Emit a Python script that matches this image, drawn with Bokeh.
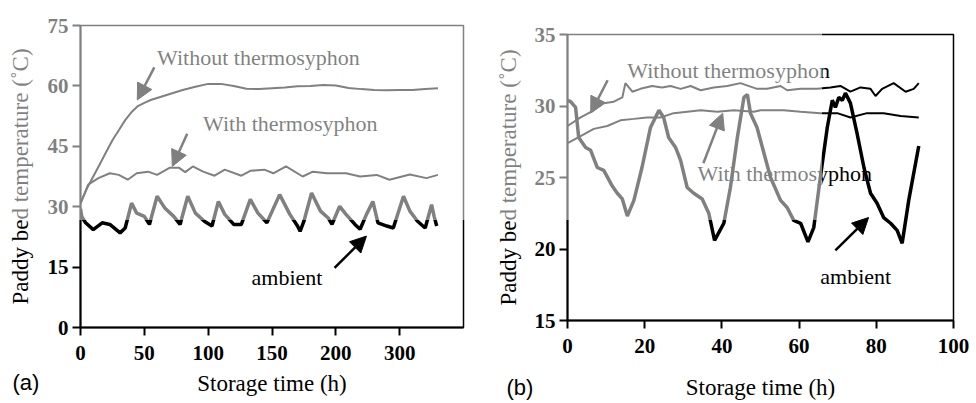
from bokeh.plotting import figure
from bokeh.layouts import row, column
from bokeh.models import Label, Arrow, NormalHead, FixedTicker, InlineStyleSheet
from bokeh.embed import file_html
from bokeh.resources import INLINE

# ---------------- data: panel (a) ----------------
a_time_without = [0, 5, 10, 15, 20, 25, 30, 35, 40, 45, 50, 55, 60, 70, 80, 90, 100, 110, 120,
                  130, 140, 150, 160, 170, 180, 190, 200, 210, 220, 230, 240, 250, 260, 270, 280]
a_without = [30.8, 34.5, 37.5, 40.5, 43.5, 46.5, 49.0, 51.5, 53.5, 55.0, 55.8, 56.5, 57.0, 58.0, 59.0,
             59.8, 60.5, 60.5, 60.0, 59.3, 59.2, 59.4, 59.6, 59.9, 60.0, 60.2, 60.1, 59.5, 59.2, 59.0,
             58.9, 59.0, 59.0, 59.2, 59.4]

a_time_with = [0, 6, 14, 23, 30, 37, 44, 53, 60, 70, 77, 82, 88, 96, 105, 113, 126, 133, 144, 151,
               161, 174, 182, 193, 208, 219, 232, 242, 258, 271, 280]
a_with = [30.8, 35.5, 37.1, 38.3, 37.9, 36.7, 38.3, 38.7, 37.9, 39.7, 39.7, 38.6, 40.0, 38.7, 37.7,
          39.2, 37.7, 38.9, 39.2, 38.3, 40.0, 37.5, 38.7, 38.3, 38.3, 37.5, 37.9, 36.7, 38.0, 37.1, 37.9]

a_time_amb = [0, 1, 4, 10, 17, 23, 31, 35, 40, 44, 50, 54, 60, 66, 73, 78, 84, 90, 97, 103,
              108, 113, 120, 126, 133, 139, 146, 156, 164, 170, 172, 175, 181, 188, 194, 197, 203, 208, 215, 219,
              224, 229, 233, 240, 245, 253, 258, 264, 270, 275, 277, 279]
a_amb = [29.5, 27.5, 26.0, 24.3, 26.0, 25.6, 23.5, 24.7, 30.9, 28.4, 27.6, 25.6, 32.6, 29.7, 27.6,
         25.6, 32.6, 28.4, 26.4, 25.2, 31.3, 28.1, 25.6, 25.6, 31.8, 28.4, 26.0, 33.0, 28.1, 25.2,
         23.9, 26.4, 33.4, 28.9, 27.2, 25.6, 30.1, 28.1, 25.6, 24.4, 28.1, 31.3, 26.0, 25.2, 24.7,
         32.6, 28.9, 26.4, 24.7, 30.5, 27.6, 25.2]

a_xticks = [0, 50, 100, 150, 200, 250]
a_xtick_labels = ["0", "50", "100", "150", "200", "300"]
a_yticks = [0, 15, 30, 45, 60, 75]

# ---------------- data: panel (b) ----------------
b_time_without = [0, 3.4, 6.8, 9.4, 12, 14.2, 15, 16.8, 18.9, 21.9, 24.5, 26.7, 29.3, 31.9, 34.5,
                  37.9, 41.4, 44.8, 49.1, 51.7, 55.2, 56.9, 60.4, 64.7, 68.1, 70.7, 73.3, 75.9, 78.5,
                  79.8, 81.5, 84.5, 87.6, 89.7, 91]
b_without = [28.6, 29.2, 29.7, 30.2, 30.3, 30.6, 31.6, 31.0, 31.2, 31.4, 31.3, 31.4, 31.2, 31.4, 31.1,
             31.3, 31.4, 31.6, 31.2, 31.2, 31.4, 31.1, 31.2, 31.2, 31.3, 31.4, 31.0, 31.3, 31.2, 30.7,
             31.2, 31.6, 31.0, 31.2, 31.6]

b_time_with = [0, 3.4, 6.8, 10.3, 13.7, 17.2, 20.6, 24.1, 27.5, 31, 34.5, 38.8, 43.1, 48.3, 50, 56,
               60.4, 65.5, 69.9, 73.3, 77.6, 81.9, 86.3, 91]
b_with = [27.4, 27.9, 28.4, 28.6, 29.0, 29.1, 29.2, 29.2, 29.5, 29.6, 29.7, 29.6, 29.7, 29.6, 29.7,
          29.7, 29.6, 29.5, 29.5, 29.2, 29.5, 29.5, 29.3, 29.2]

b_time_amb = [0, 0.8, 2.1, 2.9, 4.7, 6, 7.7, 9.4, 11.6, 12.9, 14.2, 15.5, 17.2, 19.3, 21.5, 23.7,
              24.9, 26.2, 28, 29.3, 31, 32.7, 34.9, 36.6, 38.1, 40.5, 42.2, 44, 45.7, 46.6, 47.4,
              49.1, 50.9, 52.6, 55.2, 56.9, 58.6, 60.4, 62.3, 63.8, 65.5, 67.3, 68.6, 69.4, 70.3,
              71.2, 72, 73.3, 75, 76.8, 78.5, 80.2, 81.9, 83.7, 85.4, 86.7, 88.4, 91]
b_amb = [30.4, 30.3, 29.9, 27.8, 27.1, 26.9, 25.7, 25.5, 24.4, 23.9, 23.5, 22.3, 23.4, 25.7, 28.5,
         29.7, 29.2, 27.8, 27.1, 26.2, 24.3, 23.9, 23.5, 22.5, 20.6, 21.8, 24.3, 27.8, 30.6, 30.8,
         29.5, 28.5, 26.7, 25.0, 23.4, 22.9, 22.0, 21.8, 20.5, 21.5, 25.0, 28.5, 30.4, 29.9, 30.6,
         30.4, 30.9, 30.2, 28.1, 25.7, 23.9, 23.2, 22.2, 21.8, 21.3, 20.4, 23.4, 27.2]

b_xticks = [0, 20, 40, 60, 80, 100]
b_yticks = [15, 20, 25, 30, 35]

x_title = "Storage time (h)"
y_title = "Paddy bed temperature (\u02daC)"
SERIF = "Liberation Serif"
SANS = "Liberation Sans"


def style(p, xticks, yticks, overrides=None):
    p.xaxis.ticker = FixedTicker(ticks=xticks)
    p.yaxis.ticker = FixedTicker(ticks=yticks)
    if overrides:
        p.xaxis.major_label_overrides = overrides
    p.grid.visible = False
    for ax in (p.xaxis[0], p.yaxis[0]):
        ax.axis_line_width = 2
        ax.axis_line_color = "black"
        ax.major_tick_line_width = 2
        ax.major_tick_line_color = "black"
        ax.major_tick_out = 8
        ax.major_tick_in = 0
        ax.minor_tick_line_color = None
        ax.major_label_text_font = SERIF
        ax.major_label_text_font_size = "21px"
        ax.major_label_text_font_style = "bold"
        ax.major_label_text_color = "black"
        ax.axis_label_text_font = SERIF
        ax.axis_label_text_font_size = "23px"
        ax.axis_label_text_font_style = "normal"
        ax.axis_label_text_color = "black"
    p.xaxis.major_label_standoff = 10
    p.yaxis.major_label_standoff = 4
    p.outline_line_color = "black"
    p.outline_line_width = 1.5
    p.background_fill_color = "white"
    p.border_fill_color = "white"


def label(p, x, y, text):
    p.add_layout(Label(x=x, y=y, text=text, text_font=SERIF, text_font_size="22px",
                       text_baseline="middle", text_align="left", text_color="black"))


def arrow(p, x0, y0, x1, y1):
    p.add_layout(Arrow(end=NormalHead(size=16, fill_color="black", line_color="black"),
                       x_start=x0, y_start=y0, x_end=x1, y_end=y1,
                       line_width=2.5, line_color="black"))


def panel_tag(p, x, y, text):
    # placed in the (unclipped) top side panel, offset down to the bottom-left corner
    p.add_layout(Label(x=x, y=y, x_units="screen", y_units="screen", text=text,
                       text_font=SANS, text_font_size="22px", text_baseline="middle",
                       text_align="left", text_color="black"), "above")


# ---------------- panel (a) ----------------
pa = figure(width=480, height=403, x_range=(0, 300), y_range=(0, 75), title=None,
            output_backend="svg", toolbar_location=None,
            min_border_left=80, min_border_right=17, min_border_top=23, min_border_bottom=76,
            x_axis_label=x_title, y_axis_label=y_title)
style(pa, a_xticks, a_yticks, dict(zip(a_xticks, a_xtick_labels)))
pa.xaxis.axis_label_standoff = 8
pa.yaxis.axis_label_standoff = 12
pa.line(a_time_without, a_without, line_color="black", line_width=2)
pa.line(a_time_with, a_with, line_color="black", line_width=2)
pa.line(a_time_amb, a_amb, line_color="black", line_width=3.5)
label(pa, 60, 67.1, "Without thermosyphon")
label(pa, 96, 50.6, "With thermosyphon")
label(pa, 134, 12.3, "ambient")
arrow(pa, 57.8, 64.6, 44.5, 56.5)
arrow(pa, 83.6, 48.1, 71.9, 40.0)
arrow(pa, 199, 14.8, 224, 22.7)
panel_tag(pa, -68, -357, "(a)")

# ---------------- panel (b) ----------------
pb = figure(width=496, height=403, x_range=(0, 100), y_range=(15, 35), title=None,
            output_backend="svg", toolbar_location=None,
            min_border_left=87, min_border_right=23, min_border_top=34, min_border_bottom=83,
            x_axis_label=x_title, y_axis_label=y_title)
style(pb, b_xticks, b_yticks)
pb.xaxis.axis_label_standoff = 19
pb.yaxis.axis_label_standoff = 11
pb.line(b_time_without, b_without, line_color="black", line_width=2)
pb.line(b_time_with, b_with, line_color="black", line_width=2)
pb.line(b_time_amb, b_amb, line_color="black", line_width=3.5)
label(pb, 15.5, 32.5, "Without thermosyphon")
label(pb, 33.7, 25.3, "With thermosyphon")
label(pb, 65.5, 18.1, "ambient")
arrow(pb, 10.4, 31.8, 6.0, 29.5)
arrow(pb, 35.2, 26.0, 40.2, 29.5)
arrow(pb, 69.4, 19.9, 78.0, 22.2)
panel_tag(pb, -61, -353, "(b)")

fade = InlineStyleSheet(css="""
:host { position: relative; }
:host::after { content: ''; position: absolute; left: 0; top: 0; width: 822px; height: 220px;
  background: rgba(255,255,255,0.5); pointer-events: none; z-index: 10; }
""")
layout = row(column(pa), column(pb), stylesheets=[fade])
open("out.html", "w").write(file_html(layout, INLINE))
